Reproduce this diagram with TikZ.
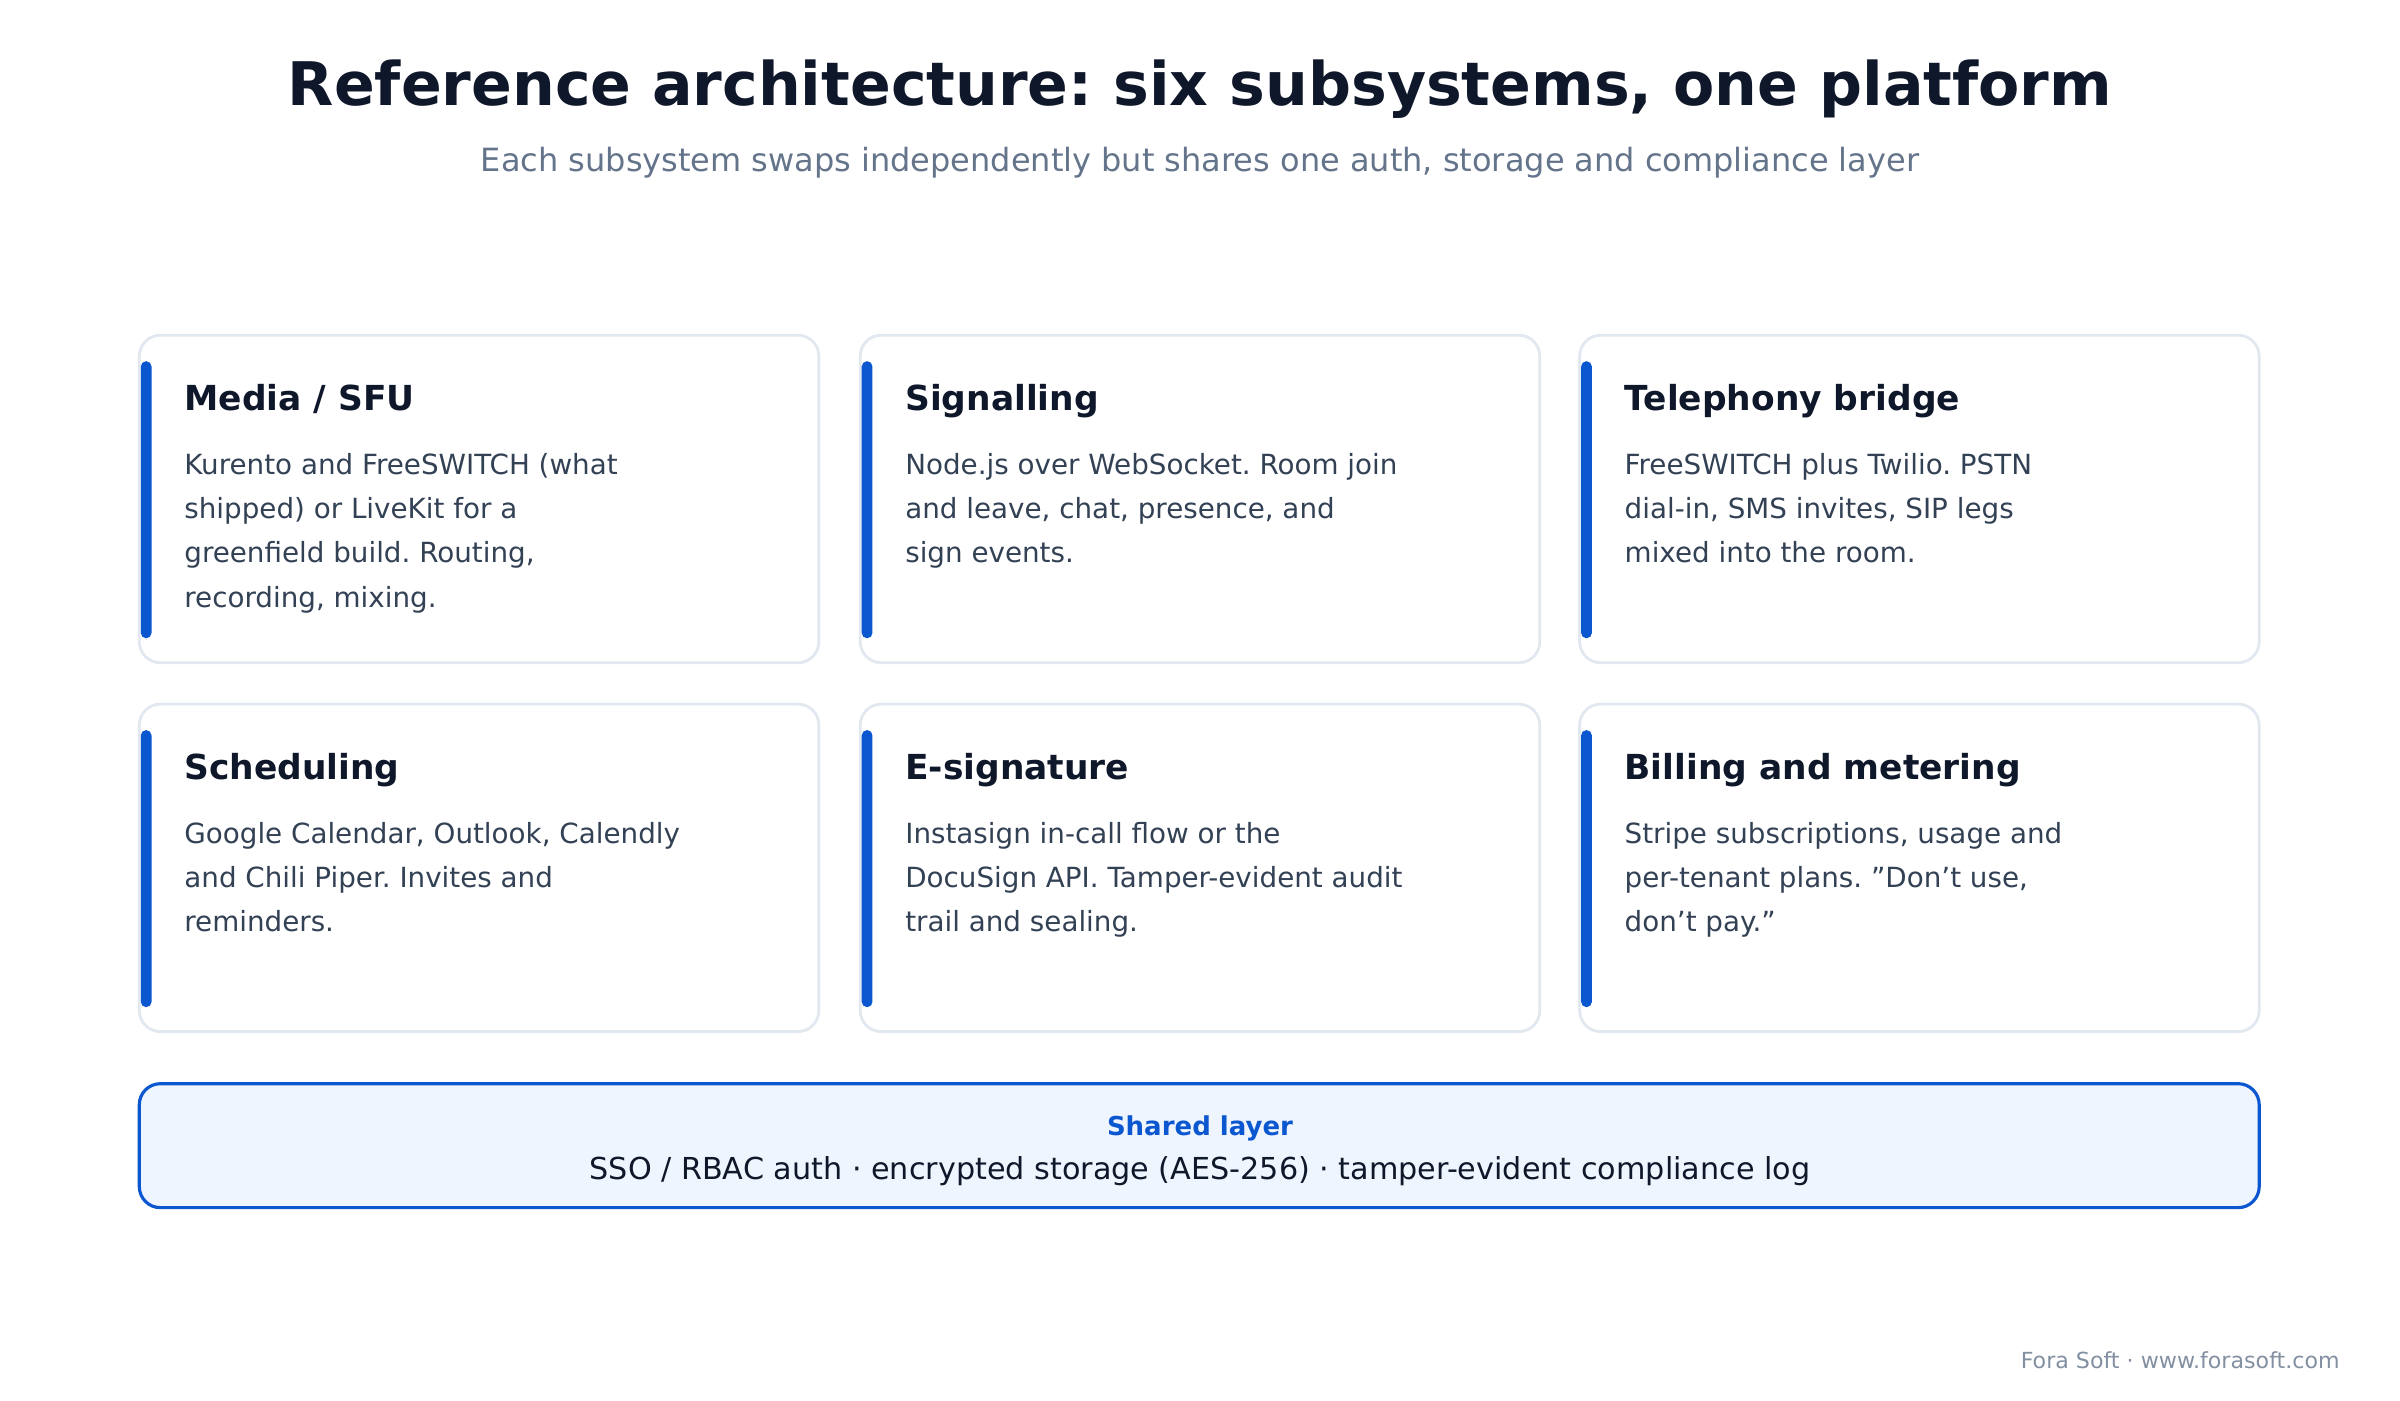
\documentclass[tikz,border=0pt]{standalone}
\usepackage{fontspec}
\setmainfont{DejaVu Sans}
\usetikzlibrary{positioning}
\frenchspacing
\definecolor{ink}{HTML}{0F172A}
\definecolor{bodyc}{HTML}{334155}
\definecolor{subc}{HTML}{64748B}
\definecolor{edge}{HTML}{E2E8F0}
\definecolor{accent}{HTML}{0B57D0}
\definecolor{sharedfill}{HTML}{EFF5FF}
\newcommand{\sq}{\symbol{34}}
\tikzset{
  card/.style={draw=edge, line width=0.8pt, fill=white, rounded corners=6pt},
  bar/.style={fill=accent, rounded corners=1.5pt},
  head/.style={anchor=base west, font=\fontsize{9.8}{11}\selectfont\bfseries, text=ink, inner sep=0},
  body/.style={anchor=north west, align=left, font=\fontsize{7.9}{12.6}\selectfont, text=bodyc, inner sep=0}
}
\begin{document}
\begin{tikzpicture}[x=0.01531cm, y=-0.01531cm]
  \useasboundingbox (0,0) rectangle (1568,915);
  %%%%%%%%%%%%%
  \node (title) at (784,58) {\fontsize{17.1}{20}\selectfont\bfseries\color{ink}Reference architecture: six subsystems, one platform};
  \node (sub) at (784,106) {\fontsize{9.1}{11}\selectfont\color{subc}Each subsystem swaps independently but shares one auth, storage and compliance layer};
  %%%%%%%%%%%%%
  \foreach \cx/\cy/\n/\h/\b in {
    91/219/media/{Media / SFU}/{Kurento and FreeSWITCH (what\\shipped) or LiveKit for a\\greenfield build. Routing,\\recording, mixing.},
    562/219/signal/Signalling/{Node.js over WebSocket. Room join\\and leave, chat, presence, and\\sign events.},
    1032/219/phone/Telephony bridge/{FreeSWITCH plus Twilio. PSTN\\dial-in, SMS invites, SIP legs\\mixed into the room.},
    91/460/sched/Scheduling/{Google Calendar, Outlook, Calendly\\and Chili Piper. Invites and\\reminders.},
    562/460/esign/E-signature/{Instasign in-call flow or the\\DocuSign API. Tamper-evident audit\\trail and sealing.},
    1032/460/bill/Billing and metering/{Stripe subscriptions, usage and\\per-tenant plans. \sq Don’t use,\\don’t pay.\sq}}{
    \draw[card] (\cx,\cy) rectangle ++(444,214);
    \fill[bar] (\cx+1,\cy+17) rectangle ++(7,181);
    \node[head] (\n-head) at (\cx+29,\cy+49) {\h};
    \node[body, below=12pt of \n-head.base west, anchor=north west] (\n-body) {\b};
  }
  %%%%%%%%%%%%%
  \draw[draw=accent, fill=sharedfill, line width=0.9pt, rounded corners=6pt] (91,708) rectangle (1476,789);
  \node (shared-head) at (784,737) {\fontsize{7.4}{9}\selectfont\bfseries\color{accent}Shared layer};
  \node (shared-body) at (784,765) {\fontsize{8.6}{11}\selectfont\color{ink}SSO / RBAC auth · encrypted storage (AES-256) · tamper-evident compliance log};
  \node[anchor=east, inner sep=0] (foot) at (1529,889) {\fontsize{6.3}{7}\selectfont\color{subc!80}Fora Soft · www.forasoft.com};
\end{tikzpicture}
\end{document}
